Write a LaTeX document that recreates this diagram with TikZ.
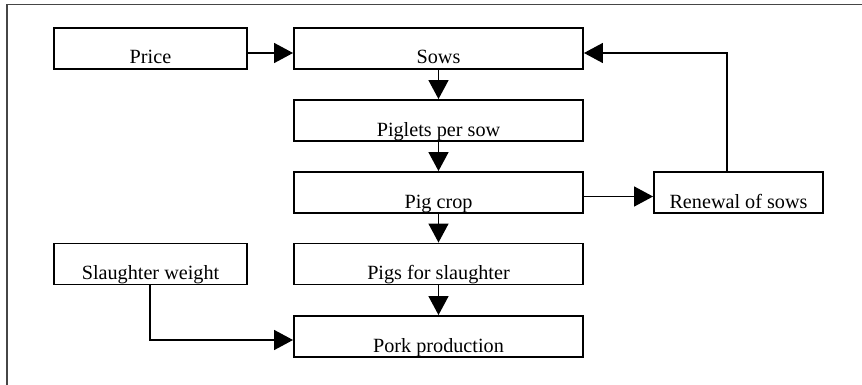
\documentclass[tikz,border=0pt]{standalone}
\usepackage{fontspec}
\setmainfont{Liberation Serif}
\usetikzlibrary{arrows.meta}
\definecolor{framecol}{RGB}{70,70,70}
\tikzset{
  box/.style={draw, line width=1.9pt, inner sep=0pt, text depth=5pt, text height=36pt,
    minimum height=41pt, font=\fontsize{20.2}{24}\selectfont},
  arr/.style={line width=1.5pt, -{Triangle[length=19pt, width=20pt]}}
}
\begin{document}
\begin{tikzpicture}[x=1pt, y=-1pt]
\useasboundingbox (0,0) rectangle (862,385);
\draw[framecol, line width=1.7pt] (7,385) -- (7,4.5) -- (862,4.5);
\node[box, minimum width=193pt] (price) at (150.5,48.5) {Price};
\node[box, minimum width=289pt] (sows) at (438.5,48.5) {Sows};
\node[box, minimum width=289pt] (piglets) at (438.5,120.5) {Piglets per sow};
\node[box, minimum width=289pt] (pigcrop) at (438.5,192.5) {Pig crop};
\node[box, minimum width=169pt] (renewal) at (738.5,192.5) {Renewal of sows};
\node[box, minimum width=193pt] (slaughter) at (150.5,264) {Slaughter weight};
\node[box, minimum width=289pt] (pigs) at (438.5,264) {Pigs for slaughter};
\node[box, minimum width=289pt] (pork) at (438.5,336.5) {Pork production};
\draw[arr] ([yshift=-4.5pt]price.east) -- ([yshift=-4.5pt]sows.west);
\draw[arr] (sows.south) -- (piglets.north);
\draw[arr] (piglets.south) -- (pigcrop.north);
\draw[arr] (pigcrop.south) -- (pigs.north);
\draw[arr] (pigs.south) -- (pork.north);
\draw[arr] ([yshift=-4pt]pigcrop.east) -- ([yshift=-4pt]renewal.west);
\draw[arr] ([xshift=-11.5pt]renewal.north) |- ([yshift=-4.5pt]sows.east);
\draw[arr] ([xshift=-0.5pt]slaughter.south) |- ([yshift=-3.5pt]pork.west);
\end{tikzpicture}
\end{document}
